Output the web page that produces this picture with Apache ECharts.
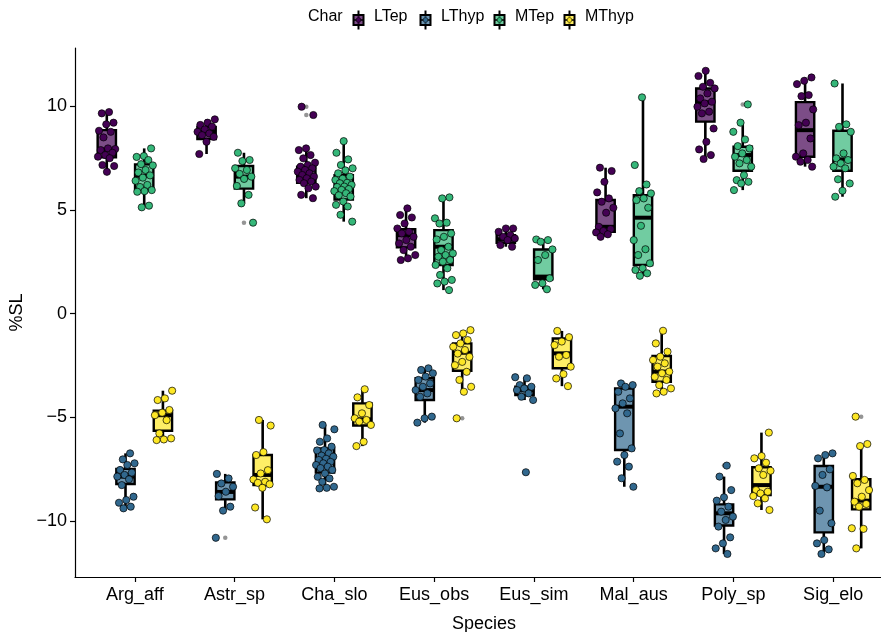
<!DOCTYPE html>
<html>
<head>
<meta charset="utf-8">
<script src="https://cdn.jsdelivr.net/npm/echarts@6/dist/echarts.min.js"></script>
<style>
  html, body { margin: 0; padding: 0; background: #fff; }
  #chart { width: 881px; height: 632px; }
</style>
</head>
<body>
<div id="chart"></div>
<script>
// Species on the x axis
const species = ['Arg_aff', 'Astr_sp', 'Cha_slo', 'Eus_obs', 'Eus_sim', 'Mal_aus', 'Poly_sp', 'Sig_elo'];
// Character groups (fill)
const chars = ['LTep', 'LThyp', 'MTep', 'MThyp'];
const yTicks = [-10, -5, 0, 5, 10];

// Box statistics per species: [lower whisker, Q1, median, Q3, upper whisker]
const boxLTep = [
  [6.83, 7.53, 7.9, 8.84, 9.71],
  [7.69, 8.41, 8.76, 9.0, 9.36],
  [5.56, 6.3, 6.67, 7.08, 7.96],
  [2.58, 3.19, 3.78, 4.06, 5.07],
  [3.22, 3.41, 3.58, 3.78, 4.1],
  [3.7, 3.94, 4.18, 5.47, 7.03],
  [7.45, 9.25, 10.18, 10.85, 11.7],
  [7.08, 7.56, 8.84, 10.19, 11.38]
];
const boxLThyp = [
  [-9.39, -8.22, -7.86, -7.49, -6.74],
  [-9.5, -8.96, -8.6, -8.14, -7.73],
  [-8.43, -7.67, -7.06, -6.5, -5.37],
  [-5.26, -4.17, -3.69, -3.12, -2.64],
  [-4.17, -3.93, -3.7, -3.53, -3.07],
  [-8.35, -6.58, -4.49, -3.61, -3.37],
  [-11.59, -10.22, -9.63, -9.2, -7.86],
  [-11.59, -10.55, -8.35, -7.35, -6.74]
];
const boxMTep = [
  [5.12, 5.95, 6.64, 7.19, 7.96],
  [5.31, 6.02, 6.6, 7.11, 7.75],
  [4.43, 5.5, 6.1, 6.67, 8.31],
  [1.13, 2.34, 3.22, 4.02, 5.6],
  [1.17, 1.65, 1.78, 3.09, 3.57],
  [1.82, 2.34, 4.62, 5.71, 10.42],
  [5.95, 6.88, 7.64, 8.04, 9.2],
  [5.63, 6.88, 7.43, 8.81, 11.09]
];
const boxMThyp = [
  [-6.1, -5.65, -4.9, -4.68, -3.72],
  [-9.92, -8.27, -7.78, -6.82, -5.13],
  [-6.39, -5.4, -5.1, -4.33, -3.65],
  [-3.77, -2.76, -1.89, -1.44, -0.8],
  [-3.5, -2.64, -1.92, -1.2, -0.84],
  [-3.85, -3.29, -2.8, -2.05, -0.83],
  [-9.47, -8.75, -8.27, -7.41, -5.74],
  [-11.32, -9.44, -9.02, -7.99, -6.29]
];

// Boxplot outliers per species
const outLTep = [[], [], [9.97, 9.57], [], [], [], [], []];
const outLThyp = [[], [-10.81], [], [], [-7.65], [], [-7.33], []];
const outMTep = [[], [4.38], [], [], [], [], [10.08], []];
const outMThyp = [[], [], [], [-5.05], [], [], [], [-4.97]];

// Individual observations per species
const ptsLTep = [
  [9.71, 9.65, 9.2, 9.12, 8.81, 8.76, 8.49, 7.93, 7.96, 7.88, 7.75, 7.64, 7.56, 7.49, 7.16, 7.11, 6.83],
  [9.36, 9.2, 9.09, 9.01, 8.88, 8.76, 8.68, 8.6, 8.52, 8.28, 7.69],
  [9.97, 9.57, 7.96, 7.88, 7.64, 7.48, 7.27, 7.16, 7.08, 7.0, 6.92, 6.84, 6.76, 6.68, 6.6, 6.52, 6.44, 6.36, 6.28, 6.12, 6.04, 5.72, 5.56],
  [5.07, 4.75, 4.63, 4.34, 4.1, 3.94, 3.86, 3.7, 3.54, 3.38, 3.22, 3.06, 2.82, 2.66, 2.58],
  [4.1, 4.1, 3.94, 3.78, 3.7, 3.62, 3.54, 3.3, 3.22],
  [7.03, 6.87, 6.35, 5.84, 5.55, 5.39, 5.1, 4.86, 4.18, 4.07, 3.98, 3.91, 3.82, 3.7],
  [11.7, 11.45, 11.12, 10.93, 10.85, 10.61, 10.37, 10.21, 10.13, 9.97, 9.73, 9.65, 8.92, 8.28, 7.91, 7.64, 7.45],
  [11.38, 11.22, 11.06, 10.53, 10.48, 9.84, 9.2, 9.08, 8.44, 7.72, 7.56, 7.4, 7.32, 7.08]
];
const ptsLThyp = [
  [-6.74, -7.03, -7.22, -7.3, -7.54, -7.67, -7.78, -7.86, -7.99, -8.27, -8.83, -8.99, -9.12, -9.31, -9.39],
  [-7.73, -7.95, -8.19, -8.35, -8.59, -8.8, -9.31, -9.5, -10.81],
  [-5.37, -5.58, -6.02, -6.18, -6.42, -6.58, -6.6, -6.74, -6.85, -6.9, -7.0, -7.06, -7.15, -7.22, -7.3, -7.38, -7.45, -7.54, -7.71, -7.87, -7.95, -8.11, -8.35, -8.4, -8.43],
  [-2.64, -2.72, -2.88, -3.04, -3.2, -3.37, -3.53, -3.69, -3.85, -4.01, -4.97, -5.05, -5.26],
  [-3.07, -3.12, -3.45, -3.53, -3.61, -3.69, -3.85, -4.01, -4.17, -7.65],
  [-3.37, -3.45, -3.53, -3.77, -4.09, -4.33, -4.57, -4.81, -5.78, -6.5, -6.82, -7.14, -7.38, -7.94, -8.35],
  [-7.33, -7.86, -8.51, -8.86, -9.02, -9.31, -9.55, -9.79, -9.95, -10.27, -10.79, -11.08, -11.32, -11.59],
  [-6.74, -6.82, -6.98, -7.51, -7.78, -8.31, -8.38, -9.5, -10.11, -10.92, -11.08, -11.37, -11.59]
];
const ptsMTep = [
  [7.96, 7.59, 7.55, 7.4, 7.2, 7.14, 6.92, 6.8, 6.66, 6.55, 6.4, 6.2, 6.1, 5.95, 5.9, 5.87, 5.2, 5.12],
  [7.75, 7.4, 7.35, 7.0, 6.92, 6.73, 6.6, 6.49, 6.15, 5.72, 5.31, 4.38],
  [8.31, 7.75, 7.43, 7.16, 7.0, 6.9, 6.76, 6.6, 6.5, 6.44, 6.3, 6.28, 6.2, 6.12, 6.1, 6.0, 5.96, 5.9, 5.8, 5.7, 5.64, 5.4, 5.24, 5.16, 4.76, 4.43],
  [5.6, 5.55, 4.59, 4.38, 4.34, 3.86, 3.7, 3.57, 3.22, 3.06, 2.9, 2.82, 2.74, 2.58, 2.5, 2.34, 2.18, 1.86, 1.62, 1.54, 1.45, 1.13],
  [3.57, 3.54, 3.46, 3.09, 2.82, 2.58, 1.7, 1.46, 1.38, 1.17],
  [10.42, 7.16, 6.22, 5.9, 5.79, 5.55, 5.47, 5.1, 4.23, 3.54, 3.1, 2.82, 2.42, 2.18, 2.1, 1.94, 1.82],
  [10.08, 9.2, 8.76, 8.39, 8.07, 7.96, 7.72, 7.56, 7.4, 7.24, 7.08, 6.67, 6.43, 6.35, 6.27, 5.95],
  [11.09, 9.12, 9.0, 8.76, 7.72, 7.48, 7.4, 7.24, 7.08, 7.0, 6.47, 6.27, 5.92, 5.63]
];
const ptsMThyp = [
  [-3.72, -4.09, -4.17, -4.65, -4.78, -4.9, -5.14, -5.78, -6.02, -6.07, -6.1],
  [-5.13, -5.4, -6.68, -6.82, -7.55, -7.71, -8.0, -8.11, -8.16, -8.23, -8.4, -9.35, -9.92],
  [-3.65, -4.04, -4.41, -4.81, -5.05, -5.13, -5.21, -5.37, -6.18, -6.39],
  [-0.8, -0.96, -1.04, -1.28, -1.44, -1.6, -1.76, -1.93, -2.09, -2.33, -2.49, -2.81, -3.2, -3.53, -3.77, -5.05],
  [-0.84, -1.14, -1.35, -1.52, -2.0, -2.08, -2.56, -2.92, -3.13, -3.5],
  [-0.83, -1.44, -1.84, -2.08, -2.24, -2.4, -2.56, -2.8, -2.88, -3.05, -3.2, -3.45, -3.61, -3.77, -3.85],
  [-5.74, -6.87, -6.98, -7.19, -7.46, -7.58, -7.78, -8.51, -8.59, -8.67, -8.8, -8.91, -9.15, -9.47],
  [-4.97, -6.29, -6.39, -7.83, -8.02, -8.18, -8.51, -8.83, -9.07, -9.18, -9.31, -10.35, -10.38, -11.32]
];

const boxes = [boxLTep, boxLThyp, boxMTep, boxMThyp];
const outliers = [outLTep, outLThyp, outMTep, outMThyp];
const points = [ptsLTep, ptsLThyp, ptsMTep, ptsMThyp];

// viridis colours, and the same at 70% over white for box fills
const colors = ['#440154', '#31688E', '#35B779', '#FDE725'];
const fills = ['rgba(68,1,84,0.7)', 'rgba(49,104,142,0.7)', 'rgba(53,183,121,0.7)', 'rgba(253,231,37,0.7)'];

// dodge: four groups across 0.75 of a category
const dodge = 0.75 / 4;
const offsets = chars.map((_, i) => (i - 1.5) * dodge);
const boxWidth = dodge * 0.98;
const jitterWidth = 0.095;
const FONT = '"Liberation Sans", Arial, sans-serif';

function minus(v) { return v < 0 ? '\u2212' + Math.abs(v) : String(v); }

// stable low-discrepancy spread for the horizontal jitter
function spread(k, s, c) {
  const f = ((k + 1) * 0.6180339887 + s * 0.317 + c * 0.123) % 1;
  return (f - 0.5) * 2 * jitterWidth;
}

const series = [];
chars.forEach((name, c) => {
  series.push({
    name: name,
    type: 'custom',
    z: 2,
    itemStyle: { color: fills[c], borderColor: '#000' },
    data: boxes[c].map((b, s) => [s].concat(b)),
    renderItem: function (params, api) {
      const x = api.value(0) + offsets[c];
      const lo = api.coord([x, api.value(1)]);
      const q1 = api.coord([x, api.value(2)]);
      const md = api.coord([x, api.value(3)]);
      const q3 = api.coord([x, api.value(4)]);
      const hi = api.coord([x, api.value(5)]);
      const hw = api.size([boxWidth, 0])[0] / 2;
      return {
        type: 'group',
        children: [
          { type: 'line', shape: { x1: hi[0], y1: hi[1], x2: q3[0], y2: q3[1] }, style: { stroke: '#000', lineWidth: 2.6 } },
          { type: 'line', shape: { x1: q1[0], y1: q1[1], x2: lo[0], y2: lo[1] }, style: { stroke: '#000', lineWidth: 2.6 } },
          { type: 'rect', shape: { x: q3[0] - hw, y: q3[1], width: hw * 2, height: q1[1] - q3[1] }, style: { fill: fills[c], stroke: '#000', lineWidth: 2.4 } },
          { type: 'line', shape: { x1: md[0] - hw, y1: md[1], x2: md[0] + hw, y2: md[1] }, style: { stroke: '#000', lineWidth: 4 } }
        ]
      };
    }
  });
});
chars.forEach((name, c) => {
  const data = [];
  outliers[c].forEach((arr, s) => arr.forEach(v => data.push([s + offsets[c], v])));
  series.push({
    name: name, type: 'scatter', z: 3, silent: true,
    symbolSize: 4.5,
    itemStyle: { color: '#8a8a8a', opacity: 0.9 },
    data: data
  });
});
chars.forEach((name, c) => {
  const data = [];
  points[c].forEach((arr, s) => arr.forEach((v, k) => data.push([s + offsets[c] + spread(k, s, c), v])));
  series.push({
    name: name, type: 'scatter', z: 4,
    symbolSize: 7.2,
    itemStyle: { color: colors[c], borderColor: '#000', borderWidth: 0.7, opacity: 1 },
    data: data
  });
});

// legend drawn as small boxplot glyphs
const legendGraphics = [
  { type: 'text', left: 308, top: 9, style: { text: 'Char', font: '16px ' + FONT, fill: '#000' } }
];
const legendX = [351, 418, 492, 562];
chars.forEach((name, c) => {
  const x0 = legendX[c];
  legendGraphics.push({
    type: 'group', left: x0, top: 8,
    children: [
      { type: 'line', shape: { x1: 5, y1: 0, x2: 5, y2: 19 }, style: { stroke: '#000', lineWidth: 2 } },
      { type: 'rect', shape: { x: 0, y: 4.5, width: 10, height: 10 }, style: { fill: fills[c], stroke: '#000', lineWidth: 2 } },
      { type: 'line', shape: { x1: 0, y1: 9.5, x2: 10, y2: 9.5 }, style: { stroke: '#000', lineWidth: 1.5 } },
      { type: 'circle', shape: { cx: 5, cy: 9.5, r: 2.4 }, style: { fill: colors[c], stroke: '#000', lineWidth: 0.5 } }
    ]
  });
  legendGraphics.push({
    type: 'text', left: x0 + 23, top: 9,
    style: { text: name, font: '16px ' + FONT, fill: '#000' }
  });
});

const chart = echarts.init(document.getElementById('chart'), null, { renderer: 'canvas' });
chart.setOption({
  animation: false,
  backgroundColor: '#fff',
  textStyle: { fontFamily: FONT },
  grid: { left: 75, top: 48, width: 818, height: 529, containLabel: false, outerBoundsMode: 'none' },
  graphic: legendGraphics,
  xAxis: {
    type: 'value',
    min: -0.6, max: 7.6,
    name: 'Species', nameLocation: 'middle', nameGap: 38,
    nameTextStyle: { fontSize: 18, color: '#000' },
    axisLine: { show: true, onZero: false, lineStyle: { color: '#000', width: 1.2 } },
    axisTick: { show: true, length: 5, lineStyle: { color: '#000', width: 1.2 }, customValues: species.map((_, i) => i) },
    axisLabel: { fontSize: 18, color: '#000', margin: 9, customValues: species.map((_, i) => i), formatter: v => species[Math.round(v)] },
    splitLine: { show: false }
  },
  yAxis: {
    type: 'value',
    min: -12.7, max: 12.8,
    name: '%SL', nameLocation: 'middle', nameGap: 45, nameRotate: 90,
    nameTextStyle: { fontSize: 18, color: '#000' },
    axisLine: { show: true, onZero: false, lineStyle: { color: '#000', width: 1.2 } },
    axisTick: { show: true, length: 5, lineStyle: { color: '#000', width: 1.2 }, customValues: yTicks },
    axisLabel: { fontSize: 18, color: '#000', margin: 8, customValues: yTicks, formatter: minus },
    splitLine: { show: false }
  },
  series: series
});
</script>
</body>
</html>
